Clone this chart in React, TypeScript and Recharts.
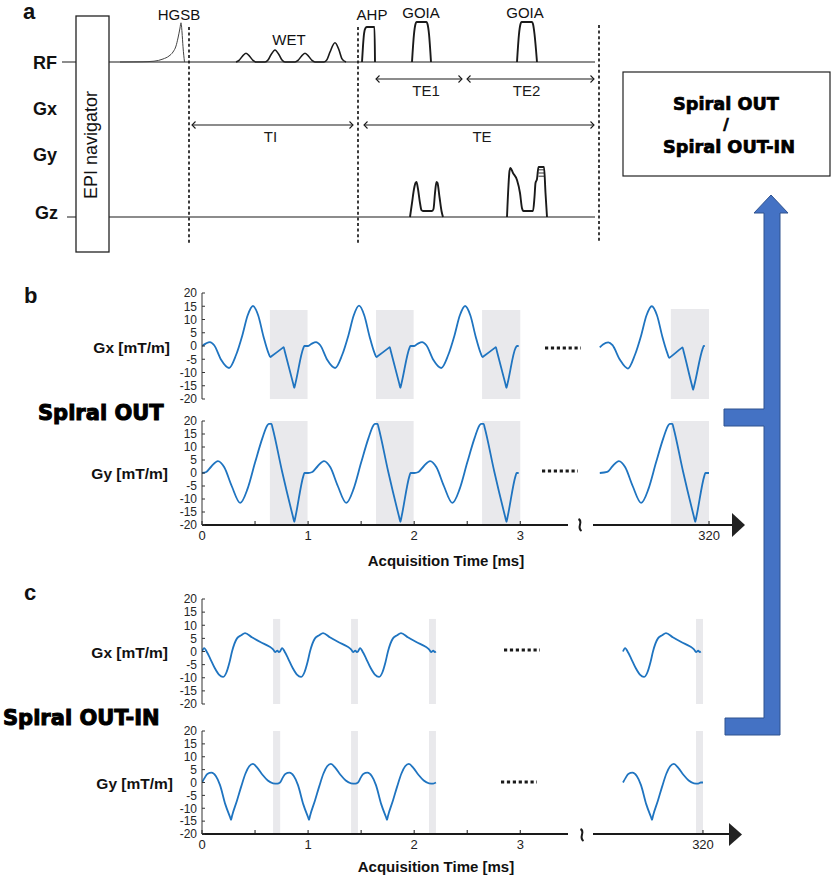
import React from 'react';
import { LineChart, Line, XAxis, YAxis, ReferenceArea, ReferenceLine } from 'recharts';

const SANS = "'Liberation Sans', Arial, sans-serif";
const HEAVY = "'DejaVu Sans', 'Liberation Sans', sans-serif";
const BLUE = '#1f74c0';
const BAND = '#e9e9ec';
const INK = '#1a1a1a';
const ARROW_BLUE = '#4472c4';

// ---------- panel a: sequence diagram, x in sequence units (a.u.) ----------
const RF_ROW = 3.875; // vertical offset of the RF row above the Gz row
const rfBaseline = [[0, 0], [533, 0]];
const hgsbPulse = [
  [58, 0], [80, 0.005], [92, 0.02], [101, 0.075], [107, 0.15], [111, 0.25], [114, 0.4],
  [116, 0.6], [118, 0.85], [119, 0.98], [120, 0.75], [121, 0.38], [122.5, 0],
];
const wetPulses = [
  [174, 0], [177, 0.04], [180, 0.13], [184, 0.22], [188, 0.13], [191, 0.04], [194, 0],
  [203, 0], [206, 0.05], [209, 0.18], [213, 0.3], [217, 0.18], [220, 0.05], [223, 0],
  [233, 0], [236, 0.04], [239, 0.13], [243, 0.22], [247, 0.13], [250, 0.04], [253, 0],
  [262, 0], [265, 0.06], [268, 0.25], [273, 0.48], [277, 0.3], [280, 0.08], [284, 0],
];
const ahpPulse = [[300, 0], [301, 0.4], [302, 0.7], [303.5, 0.85], [305, 0.875], [312.5, 0.875], [313, 0]];
const goiaPulse1 = [[350, 0], [352, 0.7], [353.5, 0.95], [354.5, 1], [364.5, 1], [365.5, 0.95], [367, 0.7], [369, 0]];
const goiaPulse2 = [[455, 0], [457, 0.7], [458.5, 0.95], [459.5, 1], [470, 1], [471, 0.95], [472.5, 0.7], [475, 0]];
const gzBaseline = [[5, 0], [533, 0]];
const gzGoia1 = [
  [348, 0], [350, 0.35], [352, 0.7], [353.5, 0.85], [354.5, 0.875], [356, 0.7], [358, 0.35], [359.5, 0.17],
  [361, 0.15], [370, 0.15], [371.5, 0.2], [373, 0.6], [374.5, 0.875], [375.5, 0.85], [377.5, 0.5], [379.5, 0.15], [381, 0],
];
const gzGoia2 = [
  [445, 0], [446.5, 0.8], [447.5, 1.15], [448.5, 1.225], [451, 1.1], [455, 0.925], [458, 0.6], [460, 0.22],
  [461.5, 0.15], [471, 0.15], [472.5, 0.5], [473.5, 0.85], [475, 0.95], [476.5, 1.25], [482, 1.25], [483.5, 0.6], [485, 0],
];
// stepped blip on top of the second Gz lobe
const gzBlipLevels = [1.02, 1.1, 1.18];
const gzBlipSpan = [476.5, 482];
const seqBoundaries = [127, 296, 537];
const seqSpans = [
  { name: 'TI', from: 130, to: 291, level: 2.3, dx: -2 },
  { name: 'TE', from: 302, to: 532, level: 2.3, dx: 3 },
  { name: 'TE1', from: 314, to: 400, level: 3.45, dx: 7 },
  { name: 'TE2', from: 405, to: 532, level: 3.45, dx: -4 },
];

// ---------- panel b: spiral OUT gradients (ms, mT/m) ----------
const gxOut = [
  [0, 0], [0.035, 0.9], [0.075, 1.5], [0.115, 0.3], [0.18, -5.2], [0.255, -8.3], [0.32, -3.5], [0.38, 4], [0.43, 11.5], [0.48, 15.1], [0.53, 11.5], [0.58, 3.5], [0.625, -2.5], [0.645, -4.2], [0.655, -3.9], [0.76, -0.7], [0.77, -0.4], [0.78, -2], [0.86, -14.3], [0.87, -15.8], [0.88, -14.2], [0.955, -0.8], [0.965, 0], [1, 0],
  [1.035, 0.9], [1.075, 1.5], [1.115, 0.3], [1.18, -5.2], [1.255, -8.3], [1.32, -3.5], [1.38, 4], [1.43, 11.5], [1.48, 15.2], [1.53, 11.5], [1.58, 3.5], [1.625, -2.5], [1.645, -4.2], [1.655, -3.9], [1.76, -0.7], [1.77, -0.4], [1.78, -2], [1.86, -14.3], [1.87, -15.8], [1.88, -14.2], [1.955, -0.8], [1.965, 0], [2, 0],
  [2.035, 0.9], [2.075, 1.5], [2.115, 0.3], [2.18, -5.2], [2.255, -8.3], [2.32, -3.5], [2.38, 4], [2.43, 11.5], [2.48, 15.1], [2.53, 11.5], [2.58, 3.5], [2.625, -2.5], [2.645, -4.2], [2.655, -3.9], [2.76, -0.7], [2.77, -0.4], [2.78, -2], [2.86, -14.3], [2.87, -15.8], [2.88, -14.2], [2.955, -0.8], [2.97, 0], [2.985, 0],
];
const gyOut = [
  [0, 0], [0.04, 0.4], [0.09, 2.6], [0.15, 4.6], [0.21, 2.2], [0.28, -5], [0.36, -11.5], [0.43, -6], [0.5, 4], [0.57, 13.5], [0.615, 18.3], [0.63, 18.9], [0.655, 18.9], [0.665, 17.4], [0.755, 0.6], [0.86, -17.2], [0.87, -18.8], [0.88, -17], [0.955, -1.2], [0.965, 0], [1, 0],
  [1.04, 0.4], [1.09, 2.6], [1.15, 4.6], [1.21, 2.2], [1.28, -5], [1.36, -11.5], [1.43, -6], [1.5, 4], [1.57, 13.5], [1.615, 18.3], [1.63, 18.9], [1.655, 18.9], [1.665, 17.4], [1.755, 0.6], [1.86, -17.2], [1.87, -18.8], [1.88, -17], [1.955, -1.2], [1.965, 0], [2, 0],
  [2.04, 0.4], [2.09, 2.6], [2.15, 4.6], [2.21, 2.2], [2.28, -5], [2.36, -11.5], [2.43, -6], [2.5, 4], [2.57, 13.5], [2.615, 18.3], [2.63, 18.9], [2.655, 18.9], [2.665, 17.4], [2.755, 0.6], [2.86, -17.2], [2.87, -18.8], [2.88, -17], [2.955, -1.2], [2.965, 0], [2.985, 0],
];
const gxOutTail = [
  [318.97, -0.5], [319.0, 0.6], [319.05, 1.4], [319.09, 0.3], [319.16, -5.2], [319.235, -8.5], [319.3, -3.5], [319.36, 4], [319.41, 11.5], [319.46, 15], [319.51, 11.5], [319.56, 3.5], [319.605, -2.5], [319.625, -4.5], [319.635, -4.2], [319.74, -0.8], [319.75, -0.5], [319.76, -2], [319.84, -15], [319.85, -16.5], [319.86, -15], [319.94, -1], [319.95, 0], [319.96, 0],
];
const gyOutTail = [
  [318.97, 0], [319.04, 0.4], [319.09, 2.6], [319.15, 4.6], [319.21, 2.2], [319.28, -5], [319.36, -11.5], [319.43, -6], [319.5, 4], [319.57, 13.5], [319.615, 18.3], [319.63, 18.9], [319.655, 18.9], [319.665, 17.4], [319.755, 0.6], [319.86, -17.2], [319.87, -18.8], [319.88, -17], [319.955, -1.2], [319.965, 0], [320, 0],
];
const outBands = [[0.64, 0.995], [1.64, 1.995], [2.64, 3.0]];
const outTailBands = [[319.64, 320]];

// ---------- panel c: spiral OUT-IN gradients ----------
const gxOutIn = [
  [0, 0], [0.02, 1.3], [0.05, -0.5], [0.075, -2.5], [0.12, -6.3], [0.16, -8.8], [0.198, -9.7], [0.23, -8], [0.26, -4], [0.283, 0], [0.33, 5], [0.37, 6.2], [0.406, 7], [0.47, 5.4], [0.55, 3.6], [0.63, 2], [0.67, 0.8], [0.69, -0.2], [0.71, 0.3], [0.725, -0.2], [0.735, 0],
  [0.755, 1.3], [0.785, -0.5], [0.81, -2.5], [0.855, -6.3], [0.895, -8.8], [0.933, -9.7], [0.965, -8], [0.995, -4], [1.018, 0], [1.065, 5], [1.105, 6.2], [1.141, 7], [1.205, 5.4], [1.285, 3.6], [1.365, 2], [1.405, 0.8], [1.425, -0.2], [1.445, 0.3], [1.46, -0.2], [1.47, 0],
  [1.49, 1.3], [1.52, -0.5], [1.545, -2.5], [1.59, -6.3], [1.63, -8.8], [1.668, -9.7], [1.7, -8], [1.73, -4], [1.753, 0], [1.8, 5], [1.84, 6.2], [1.876, 7], [1.94, 5.4], [2.02, 3.6], [2.1, 2], [2.14, 0.8], [2.16, -0.2], [2.18, 0.3], [2.195, -0.2], [2.205, 0],
];
const gyOutIn = [
  [0, 0], [0.025, 1.8], [0.05, 3.3], [0.09, 3.8], [0.13, 2.5], [0.17, -1], [0.22, -8.5], [0.265, -13.5], [0.274, -14.5], [0.283, -13], [0.33, -7], [0.37, -1.5], [0.41, 3.5], [0.445, 6.3], [0.48, 7.2], [0.52, 5.8], [0.57, 3], [0.62, 0.8], [0.67, -0.3], [0.71, -0.4], [0.735, 0],
  [0.76, 1.8], [0.785, 3.3], [0.825, 3.8], [0.865, 2.5], [0.905, -1], [0.955, -8.5], [1.0, -13.5], [1.009, -14.5], [1.018, -13], [1.065, -7], [1.105, -1.5], [1.145, 3.5], [1.18, 6.3], [1.215, 7.2], [1.255, 5.8], [1.305, 3], [1.355, 0.8], [1.405, -0.3], [1.445, -0.4], [1.47, 0],
  [1.495, 1.8], [1.52, 3.3], [1.56, 3.8], [1.6, 2.5], [1.64, -1], [1.69, -8.5], [1.735, -13.5], [1.744, -14.5], [1.753, -13], [1.8, -7], [1.84, -1.5], [1.88, 3.5], [1.915, 6.3], [1.95, 7.2], [1.99, 5.8], [2.04, 3], [2.09, 0.8], [2.14, -0.3], [2.18, -0.4], [2.205, 0],
];
const gxOutInTail = [
  [319.245, 0], [319.265, 1.3], [319.295, -0.5], [319.32, -2.5], [319.365, -6.3], [319.405, -8.8], [319.443, -9.7], [319.475, -8], [319.505, -4], [319.528, 0], [319.575, 5], [319.615, 6.2], [319.651, 7], [319.715, 5.4], [319.795, 3.6], [319.875, 2], [319.915, 0.8], [319.935, -0.2], [319.955, 0.3], [319.97, -0.2], [319.98, 0],
];
const gyOutInTail = [
  [319.245, 0], [319.27, 1.8], [319.295, 3.3], [319.335, 3.8], [319.375, 2.5], [319.415, -1], [319.465, -8.5], [319.51, -13.5], [319.519, -14.5], [319.528, -13], [319.575, -7], [319.615, -1.5], [319.655, 3.5], [319.69, 6.3], [319.725, 7.2], [319.765, 5.8], [319.815, 3], [319.865, 0.8], [319.915, -0.3], [319.955, -0.4], [319.98, 0], [320, 0],
];
const outInBands = [[0.67, 0.737], [1.405, 1.47], [2.14, 2.205]];
const outInTailBands = [[319.934, 320]];

const G_TICKS = [-20, -15, -10, -5, 0, 5, 10, 15, 20];
const MS_TICKS = [0, 0.5, 1, 1.5, 2, 2.5, 3];
const TAIL_TICKS = [320];

const toPts = (arr: number[][]) => arr.map(([t, v]) => ({ t, v }));

const SpanArrow = ({ x1, y1, x2, y2, label, dx = 0 }: any) => {
  const h = 3.5;
  return (
    <g>
      <line x1={x1} y1={y1} x2={x2} y2={y2} stroke={INK} strokeWidth={1.1} />
      <polyline points={`${x1 + h},${y1 - h} ${x1},${y1} ${x1 + h},${y1 + h}`} fill="none" stroke={INK} strokeWidth={1.1} />
      <polyline points={`${x2 - h},${y2 - h} ${x2},${y2} ${x2 - h},${y2 + h}`} fill="none" stroke={INK} strokeWidth={1.1} />
      <text x={(x1 + x2) / 2 + dx} y={y1 + 17} textAnchor="middle" fontSize={15} fontFamily={SANS} fill={INK}>
        {label}
      </text>
    </g>
  );
};

const SequenceDiagram = () => {
  const rfSeries = [
    { key: 'rf', data: rfBaseline, w: 1.2, c: INK },
    { key: 'hgsb', data: hgsbPulse, w: 1, c: '#444' },
    { key: 'wet', data: wetPulses, w: 1.6, c: INK },
    { key: 'ahp', data: ahpPulse, w: 1.9, c: INK },
    { key: 'goia1', data: goiaPulse1, w: 1.9, c: INK },
    { key: 'goia2', data: goiaPulse2, w: 1.9, c: INK },
  ];
  const gzSeries = [
    { key: 'gz', data: gzBaseline, w: 1.2, c: INK },
    { key: 'gz1', data: gzGoia1, w: 1.9, c: INK },
    { key: 'gz2', data: gzGoia2, w: 1.9, c: INK },
  ];
  return (
    <div style={{ position: 'absolute', left: 62, top: 10 }}>
      <LineChart width={540} height={240} margin={{ top: 0, right: 0, bottom: 0, left: 0 }}>
        <XAxis type="number" dataKey="t" domain={[0, 540]} allowDataOverflow hide />
        <YAxis type="number" domain={[-0.825, 5.175]} allowDataOverflow hide />
        {seqBoundaries.map((x, i) => (
          <ReferenceLine
            key={x}
            segment={[{ x, y: i === 2 ? 4.8 : 4.75 }, { x, y: -0.65 }]}
            stroke={INK}
            strokeWidth={1.7}
            strokeDasharray="3 2.6"
          />
        ))}
        {seqSpans.map((s) => (
          <ReferenceLine
            key={s.name}
            segment={[{ x: s.from, y: s.level }, { x: s.to, y: s.level }]}
            shape={(p: any) => <SpanArrow {...p} label={s.name} dx={s.dx} />}
          />
        ))}
        {gzBlipLevels.map((lv) => (
          <ReferenceLine
            key={lv}
            segment={[{ x: gzBlipSpan[0], y: lv }, { x: gzBlipSpan[1], y: lv }]}
            stroke={INK}
            strokeWidth={0.9}
          />
        ))}
        {rfSeries.map((s) => (
          <Line
            key={s.key}
            data={toPts(s.data)}
            dataKey={(d: any) => d.v + RF_ROW}
            type="monotone"
            stroke={s.c}
            strokeWidth={s.w}
            dot={false}
            isAnimationActive={false}
          />
        ))}
        {gzSeries.map((s) => (
          <Line
            key={s.key}
            data={toPts(s.data)}
            dataKey="v"
            type="monotone"
            stroke={s.c}
            strokeWidth={s.w}
            dot={false}
            isAnimationActive={false}
          />
        ))}
      </LineChart>
    </div>
  );
};

type WaveProps = {
  left: number;
  top: number;
  plotW: number;
  plotH: number;
  domain: [number, number];
  data: number[][];
  bands: number[][];
  bandTop: number;
  yAxis?: boolean;
  xTicks?: number[];
};

const WaveChart = ({ left, top, plotW, plotH, domain, data, bands, bandTop, yAxis, xTicks }: WaveProps) => {
  const yW = yAxis ? 30 : 0;
  const xH = xTicks ? 26 : 0;
  const mTop = 8;
  const mBot = xTicks ? 0 : 8;
  return (
    <div style={{ position: 'absolute', left: left - yW, top: top - mTop }}>
      <LineChart
        width={plotW + yW}
        height={plotH + mTop + mBot + xH}
        data={toPts(data)}
        margin={{ top: mTop, right: 0, bottom: mBot, left: 0 }}
      >
        <XAxis
          type="number"
          dataKey="t"
          domain={domain}
          allowDataOverflow
          hide={!xTicks}
          ticks={xTicks}
          interval={0}
          height={xH}
          tickFormatter={(v: number) => (Number.isInteger(v) ? String(v) : '')}
          axisLine={{ stroke: INK, strokeWidth: 1.8 }}
          tickLine={{ stroke: INK, strokeWidth: 1 }}
          tickSize={-4}
          tickMargin={10}
          tick={{ fontSize: 13, fill: '#222', fontFamily: SANS }}
        />
        <YAxis
          type="number"
          domain={[-20, 20]}
          allowDataOverflow
          hide={!yAxis}
          width={yW}
          ticks={G_TICKS}
          interval={0}
          axisLine={{ stroke: '#333', strokeWidth: 1 }}
          tickLine={{ stroke: '#333', strokeWidth: 1 }}
          tickSize={-3}
          tickMargin={8}
          tick={{ fontSize: 12, fill: '#262626', fontFamily: SANS }}
        />
        {bands.map(([a, b]) => (
          <ReferenceArea key={a} x1={a} x2={b} y1={-20} y2={bandTop} fill={BAND} fillOpacity={1} stroke="none" />
        ))}
        <Line type="monotone" dataKey="v" stroke={BLUE} strokeWidth={1.8} dot={false} isAnimationActive={false} />
      </LineChart>
    </div>
  );
};

const Dots = ({ x1, x2, y }: { x1: number; x2: number; y: number }) => (
  <line x1={x1} y1={y} x2={x2} y2={y} stroke={INK} strokeWidth={3.2} strokeDasharray="3.2 2.7" />
);

const AxisBreak = ({ x, y }: { x: number; y: number }) => (
  <path d={`M${x - 1.5} ${y - 6} C${x + 4} ${y - 3}, ${x - 4} ${y + 2}, ${x + 1.5} ${y + 6}`} stroke={INK} strokeWidth={2} fill="none" />
);

const Overlay = () => {
  const chLabels = [
    { t: 'RF', x: 33, y: 68.5 },
    { t: 'Gx', x: 33, y: 114.5 },
    { t: 'Gy', x: 33, y: 161 },
    { t: 'Gz', x: 35, y: 218.5 },
  ];
  const pulseLabels = [
    { t: 'HGSB', x: 179, y: 19.5 },
    { t: 'WET', x: 289, y: 44.5 },
    { t: 'AHP', x: 372, y: 19.5 },
    { t: 'GOIA', x: 421, y: 18 },
    { t: 'GOIA', x: 525, y: 18 },
  ];
  const gLabels = [
    { t: 'Gx [mT/m]', x: 170, y: 352.5 },
    { t: 'Gy [mT/m]', x: 168, y: 478.5 },
    { t: 'Gx [mT/m]', x: 168, y: 657.5 },
    { t: 'Gy [mT/m]', x: 173, y: 788.5 },
  ];
  return (
    <svg width={837} height={878} style={{ position: 'absolute', left: 0, top: 0 }}>
      {/* panel letters */}
      <text x={23} y={19} fontSize={22} fontWeight={700} fontFamily={SANS} fill="#111">a</text>
      <text x={24} y={303} fontSize={22} fontWeight={700} fontFamily={SANS} fill="#111">b</text>
      <text x={24} y={600} fontSize={22} fontWeight={700} fontFamily={SANS} fill="#111">c</text>

      {/* EPI navigator block */}
      <rect x={76} y={16} width={33} height={236} fill="#fff" stroke="#222" strokeWidth={1.3} />
      <text transform="translate(97,145) rotate(-90)" textAnchor="middle" fontSize={18} fontFamily={SANS} fill="#111">
        EPI navigator
      </text>

      {chLabels.map((l) => (
        <text key={l.t} x={l.x} y={l.y} fontSize={18} fontWeight={700} fontFamily={SANS} fill="#111">{l.t}</text>
      ))}
      {pulseLabels.map((l, i) => (
        <text key={i} x={l.x} y={l.y} textAnchor="middle" fontSize={15} fontFamily={SANS} fill="#111">{l.t}</text>
      ))}

      {/* readout box */}
      <rect x={623} y={72} width={207} height={104} fill="#fff" stroke="#222" strokeWidth={1.2} />
      <g fontFamily={HEAVY} fontWeight={700} fill="#000" stroke="#000" strokeWidth={0.7} textAnchor="middle">
        <text x={726} y={110} fontSize={17.7}>Spiral OUT</text>
        <text x={726} y={130} fontSize={15}>/</text>
        <text x={729} y={153} fontSize={17.7}>Spiral OUT-IN</text>
      </g>

      {/* blue connector arrow */}
      <polygon
        points="771,195 788,213 780,213 780,735 725,735 725,718 764,718 764,426 724,426 724,409 764,409 764,213 754,213"
        fill={ARROW_BLUE}
        stroke="#2f528f"
        strokeWidth={1}
      />

      {/* big row titles */}
      <g fontFamily={HEAVY} fontWeight={700} fill="#000" stroke="#000" strokeWidth={1}>
        <text x={38} y={420} fontSize={21}>Spiral OUT</text>
        <text x={3} y={725} fontSize={21}>Spiral OUT-IN</text>
      </g>

      {gLabels.map((l, i) => (
        <text key={i} x={l.x} y={l.y} textAnchor="end" fontSize={15.5} fontWeight={700} fontFamily={SANS} fill="#111">{l.t}</text>
      ))}

      <text x={446} y={565.5} textAnchor="middle" fontSize={15} fontWeight={700} fontFamily={SANS} fill="#111">Acquisition Time [ms]</text>
      <text x={436} y={871.5} textAnchor="middle" fontSize={15} fontWeight={700} fontFamily={SANS} fill="#111">Acquisition Time [ms]</text>

      <Dots x1={545} x2={581} y={348} />
      <Dots x1={542} x2={578} y={471} />
      <Dots x1={504} x2={540} y={650} />
      <Dots x1={501} x2={537} y={782} />

      <AxisBreak x={580} y={525} />
      <AxisBreak x={582} y={835} />
      <polygon points="732,513 745,525 732,537" fill="#222" />
      <polygon points="729,823 742,834.5 729,846" fill="#222" />
    </svg>
  );
};

export default function App() {
  return (
    <div style={{ position: 'relative', width: 837, height: 878, background: '#fff', overflow: 'hidden' }}>
      <style>{'body{margin:0}'}</style>
      <SequenceDiagram />

      {/* b: spiral OUT */}
      <WaveChart left={202} top={293} plotW={366} plotH={106} domain={[0, 3.45]} data={gxOut} bands={outBands} bandTop={13.6} yAxis />
      <WaveChart left={202} top={421} plotW={366} plotH={104} domain={[0, 3.45]} data={gyOut} bands={outBands} bandTop={20} yAxis xTicks={MS_TICKS} />
      <WaveChart left={593} top={293} plotW={140} plotH={106} domain={[318.906, 320.226]} data={gxOutTail} bands={outTailBands} bandTop={14} />
      <WaveChart left={593} top={421} plotW={140} plotH={104} domain={[318.906, 320.226]} data={gyOutTail} bands={outTailBands} bandTop={20} xTicks={TAIL_TICKS} />

      {/* c: spiral OUT-IN */}
      <WaveChart left={202} top={599} plotW={366} plotH={105} domain={[0, 3.45]} data={gxOutIn} bands={outInBands} bandTop={12.4} yAxis />
      <WaveChart left={202} top={731} plotW={366} plotH={103} domain={[0, 3.45]} data={gyOutIn} bands={outInBands} bandTop={20} yAxis xTicks={MS_TICKS} />
      <WaveChart left={593} top={599} plotW={137} plotH={105} domain={[318.962, 320.255]} data={gxOutInTail} bands={outInTailBands} bandTop={12.4} />
      <WaveChart left={593} top={731} plotW={137} plotH={103} domain={[318.962, 320.255]} data={gyOutInTail} bands={outInTailBands} bandTop={20} xTicks={TAIL_TICKS} />

      <Overlay />
    </div>
  );
}
